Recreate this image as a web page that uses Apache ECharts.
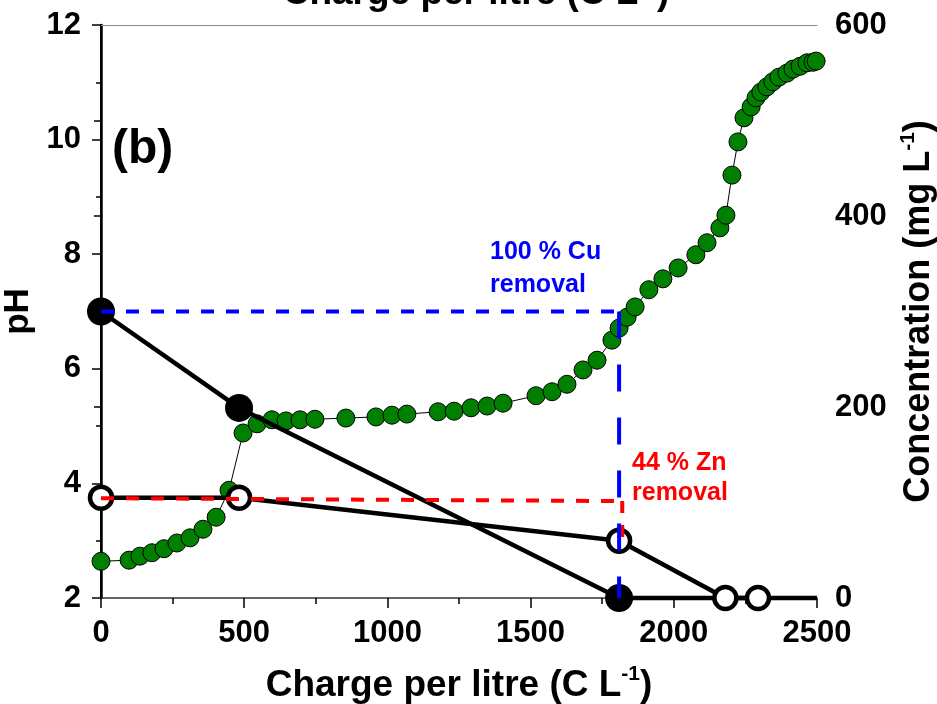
<!DOCTYPE html>
<html><head><meta charset="utf-8">
<script src="https://cdn.jsdelivr.net/npm/echarts@6/dist/echarts.min.js"></script>
<style>html,body{margin:0;padding:0;background:#fff}#c{width:937px;height:704px}</style>
</head><body><div id="c"></div>
<script>
// pH (left axis) vs charge
const chargePH = [0, 98, 136, 178, 220, 265, 311, 356, 402, 447, 496, 545, 597, 646, 695, 747, 855, 960, 1016, 1068, 1177, 1233, 1292, 1348, 1404, 1519, 1575, 1627, 1683, 1732, 1784, 1809, 1837, 1865, 1913, 1962, 2015, 2077, 2116, 2161, 2182, 2203, 2224, 2245, 2270, 2287, 2304, 2325, 2346, 2367, 2395, 2416, 2441, 2465, 2486, 2497];
const pHValues = [2.64, 2.66, 2.73, 2.79, 2.86, 2.96, 3.05, 3.20, 3.41, 3.88, 4.88, 5.04, 5.11, 5.09, 5.11, 5.12, 5.14, 5.16, 5.19, 5.21, 5.25, 5.26, 5.32, 5.35, 5.40, 5.53, 5.60, 5.73, 5.98, 6.15, 6.50, 6.71, 6.90, 7.08, 7.38, 7.57, 7.76, 7.99, 8.20, 8.46, 8.68, 9.38, 9.96, 10.38, 10.57, 10.73, 10.83, 10.92, 11.01, 11.09, 11.16, 11.23, 11.28, 11.34, 11.35, 11.37];
// Cu concentration (right axis)
const chargeCu = [0, 482, 1809];
const cuConc = [300, 199, 0];
const chargeCuTail = [1809, 2500];
const cuTail = [0, 0];
// Zn concentration (right axis)
const chargeZn = [0, 482, 1809, 2180, 2294];
const znConc = [105, 105, 60, 0, 0];
// annotation guides
const cuGuideX = [0, 1809, 1809];
const cuGuideY = [300, 300, 0];
const znGuideX = [0, 1820, 1820];
const znGuideY = [104.5, 101.5, 64];
const xTicks = {min: 0, max: 2500, interval: 500};
const pHTicks = {min: 2, max: 12, interval: 2};
const concTicks = {min: 0, max: 600, interval: 200};

const FF = 'Liberation Sans, Arial, sans-serif';
const zip = (a, b) => a.map((v, i) => [v, b[i]]);
const chart = echarts.init(document.getElementById('c'));
const mkRich = (fs) => ({
  a: {fontSize: fs, fontWeight: 'bold', fontFamily: FF, color: '#000', lineHeight: fs + 6},
  s: {fontSize: Math.round(fs * 0.58), fontWeight: 'bold', fontFamily: FF, color: '#000', lineHeight: Math.round(fs * 0.62), verticalAlign: 'top'}
});
const lbl = {fontSize: 31, fontWeight: 'bold', fontFamily: FF, color: '#000', formatter: v => String(v)};
chart.setOption({
  animation: false,
  backgroundColor: '#fff',
  grid: {left: 101, right: 120, top: 25, bottom: 106, outerBoundsMode: 'none', containLabel: false},
  xAxis: [{
    type: 'value', min: xTicks.min, max: xTicks.max, interval: xTicks.interval, position: 'bottom',
    axisLine: {lineStyle: {color: '#333', width: 1.5}},
    axisTick: {length: 10, lineStyle: {color: '#000', width: 1.5}},
    minorTick: {show: true, splitNumber: 2, length: 6, lineStyle: {color: '#000', width: 1.5}},
    splitLine: {show: false},
    axisLabel: Object.assign({margin: 20}, lbl),
    name: '{a|Charge per litre (C L}{s|-1}{a|)}', nameLocation: 'middle', nameGap: 66,
    nameTextStyle: {rich: mkRich(37)}
  }, {
    type: 'value', min: xTicks.min, max: xTicks.max, position: 'top',
    axisLine: {lineStyle: {color: '#888', width: 1}}, axisTick: {show: false},
    axisLabel: {show: false}, splitLine: {show: false}
  }],
  yAxis: [{
    type: 'value', min: pHTicks.min, max: pHTicks.max, interval: pHTicks.interval, position: 'left',
    axisLine: {show: true, lineStyle: {color: '#000', width: 2.5}},
    axisTick: {length: 9, lineStyle: {color: '#000', width: 1.5}},
    minorTick: {show: true, splitNumber: 2, length: 5, lineStyle: {color: '#000', width: 1.5}},
    splitLine: {show: false},
    axisLabel: Object.assign({margin: 20}, lbl),
    name: '{a|pH}', nameLocation: 'middle', nameGap: 52, nameTextStyle: {rich: mkRich(35)}
  }, {
    type: 'value', min: concTicks.min, max: concTicks.max, interval: concTicks.interval, position: 'right',
    axisLine: {show: true, lineStyle: {color: '#000', width: 2}},
    axisTick: {inside: true, length: 7, lineStyle: {color: '#000', width: 1.5}},
    minorTick: {show: true, splitNumber: 2, length: 7, lineStyle: {color: '#000', width: 1.5}},
    splitLine: {show: false},
    axisLabel: Object.assign({margin: 18}, lbl),
    name: '{a|Concentration (mg L}{s|-1}{a|)}', nameLocation: 'middle', nameGap: 63, nameTextStyle: {rich: mkRich(36)}
  }],
  series: [{
    type: 'line', xAxisIndex: 0, yAxisIndex: 0, data: zip(chargePH, pHValues), z: 2, clip: false,
    symbol: 'circle', symbolSize: 18,
    itemStyle: {color: '#007f00', borderColor: '#000', borderWidth: 1},
    lineStyle: {color: '#000', width: 1}
  }, {
    type: 'line', xAxisIndex: 0, yAxisIndex: 1, data: zip(chargeCuTail, cuTail), z: 3, clip: false,
    symbol: 'none', lineStyle: {color: '#000', width: 4.5}
  }, {
    type: 'line', xAxisIndex: 0, yAxisIndex: 1, data: zip(chargeCu, cuConc), z: 4, clip: false,
    symbol: 'circle', symbolSize: 28,
    itemStyle: {color: '#000', borderColor: '#000', borderWidth: 0},
    lineStyle: {color: '#000', width: 4.5}
  }, {
    type: 'line', xAxisIndex: 0, yAxisIndex: 1, data: zip(chargeZn, znConc), z: 5, clip: false,
    symbol: 'circle', symbolSize: 22,
    itemStyle: {color: '#fff', borderColor: '#000', borderWidth: 4.5},
    lineStyle: {color: '#000', width: 4.5}
  }, {
    type: 'line', xAxisIndex: 0, yAxisIndex: 1, data: zip(cuGuideX.slice(0, 2), cuGuideY.slice(0, 2)), z: 8, clip: false,
    symbol: 'none', silent: true, lineStyle: {color: '#0000ff', width: 4, type: [13, 12], cap: 'butt'}
  }, {
    type: 'line', xAxisIndex: 0, yAxisIndex: 1, data: zip(cuGuideX.slice(1), cuGuideY.slice(1)), z: 8, clip: false,
    symbol: 'none', silent: true, lineStyle: {color: '#0000ff', width: 4, type: [27, 26], cap: 'butt'}
  }, {
    type: 'line', xAxisIndex: 0, yAxisIndex: 1, data: zip(znGuideX.slice(0, 2), znGuideY.slice(0, 2)), z: 7, clip: false,
    symbol: 'none', silent: true, lineStyle: {color: '#ff0000', width: 4, type: [13, 12], cap: 'butt'}
  }, {
    type: 'line', xAxisIndex: 0, yAxisIndex: 1, data: zip(znGuideX.slice(1), znGuideY.slice(1)), z: 7, clip: false,
    symbol: 'none', silent: true, lineStyle: {color: '#ff0000', width: 4, type: [12, 12], cap: 'butt'}
  }],
  graphic: [
    {type: 'text', x: 112, y: 150, style: {text: '(b)', fontSize: 48, fontWeight: 'bold', fontFamily: FF, fill: '#000', verticalAlign: 'middle'}},
    {type: 'text', x: 490, y: 252, style: {text: '100 % Cu', fontSize: 25, fontWeight: 'bold', fontFamily: FF, fill: '#0000ff', verticalAlign: 'middle'}},
    {type: 'text', x: 490, y: 285, style: {text: 'removal', fontSize: 25, fontWeight: 'bold', fontFamily: FF, fill: '#0000ff', verticalAlign: 'middle'}},
    {type: 'text', x: 632, y: 463, style: {text: '44 % Zn', fontSize: 25, fontWeight: 'bold', fontFamily: FF, fill: '#ff0000', verticalAlign: 'middle'}},
    {type: 'text', x: 632, y: 493, style: {text: 'removal', fontSize: 25, fontWeight: 'bold', fontFamily: FF, fill: '#ff0000', verticalAlign: 'middle'}},
    {type: 'text', x: 476, y: -6, style: {text: '{a|Charge per litre (C L}{s|-1}{a|)}', rich: mkRich(37), align: 'center', verticalAlign: 'middle'}}
  ]
});
</script></body></html>
